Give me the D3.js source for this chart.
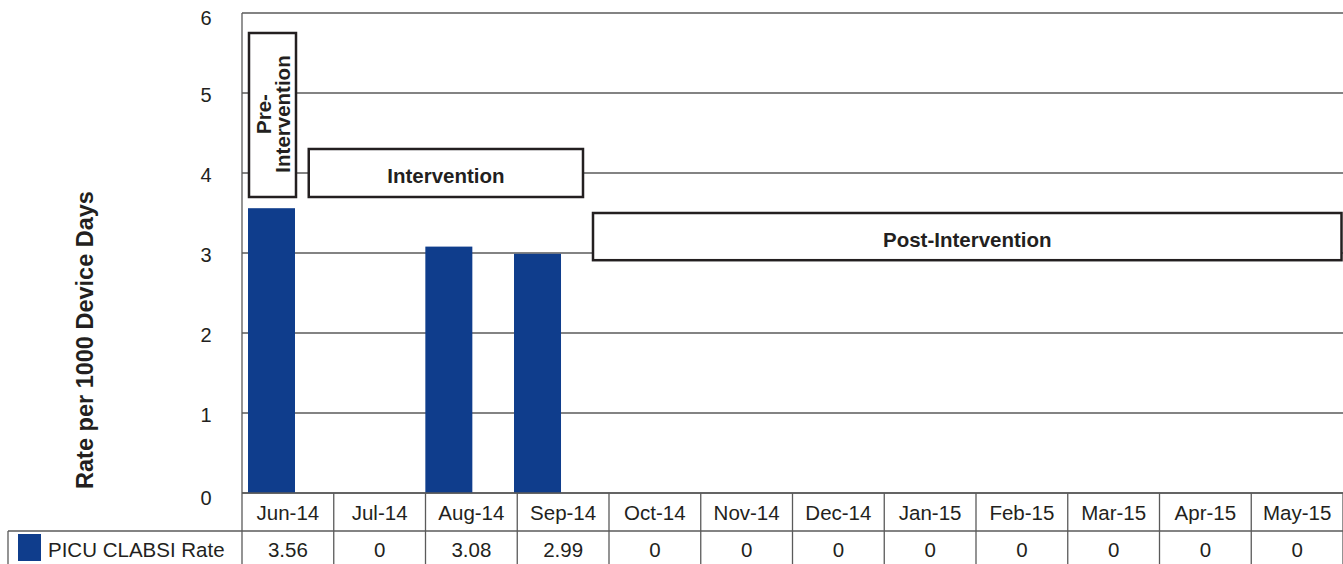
<!DOCTYPE html>
<html>
<head>
<meta charset="utf-8">
<script src="https://cdn.jsdelivr.net/npm/d3@7"></script>
<style>
  body { margin: 0; background: #fff; }
  text { font-family: "Liberation Sans", Arial, sans-serif; fill: #231f20; }
</style>
</head>
<body>
<div id="chart"></div>
<script>
var months = ["Jun-14", "Jul-14", "Aug-14", "Sep-14", "Oct-14", "Nov-14", "Dec-14", "Jan-15", "Feb-15", "Mar-15", "Apr-15", "May-15"];
var rates = [3.56, 0, 3.08, 2.99, 0, 0, 0, 0, 0, 0, 0, 0];
var rateLabels = ["3.56", "0", "3.08", "2.99", "0", "0", "0", "0", "0", "0", "0", "0"];
var yTicks = [0, 1, 2, 3, 4, 5, 6];
var seriesName = "PICU CLABSI Rate";
var yTitle = "Rate per 1000 Device Days";
var phaseNames = ["Pre-Intervention", "Intervention", "Post-Intervention"];
var phaseFirst = ["Jun-14", "Jul-14", "Oct-14"];
var phaseLast = ["Jun-14", "Sep-14", "May-15"];
var phaseTop = [5.75, 4.3, 3.5];
var phaseBottom = [3.7, 3.7, 2.91];

var width = 1343;
var height = 564;
var plotLeft = 242, plotRight = 1343, plotTop = 13, plotBottom = 493;
var rowH = 38;
var blue = "#0f3d8c";
var grid = "#5a5a5a";

var svg = d3.select("#chart")
  .append("svg")
  .attr("width", width)
  .attr("height", height);

var x = d3.scaleBand().domain(months).range([plotLeft, plotRight]);
// bars sit a little to the left of the table columns in the original
var xb = d3.scaleBand().domain(months).range([248, 248 + 12 * 88.67]);
var bw = 47;
var y = d3.scaleLinear().domain([0, 6]).range([plotBottom, plotTop]);

// gridlines
svg.append("g")
  .selectAll("line")
  .data(yTicks)
  .enter().append("line")
  .attr("x1", plotLeft).attr("x2", plotRight)
  .attr("y1", function(d) { return y(d); })
  .attr("y2", function(d) { return y(d); })
  .attr("stroke", grid)
  .style("stroke-width", "1.3px");

// left axis line
svg.append("line")
  .attr("x1", plotLeft).attr("x2", plotLeft)
  .attr("y1", plotTop).attr("y2", plotBottom + 2 * rowH)
  .attr("stroke", grid)
  .style("stroke-width", "1.3px");

// y tick labels
svg.append("g")
  .selectAll("text")
  .data(yTicks)
  .enter().append("text")
  .attr("x", 206)
  .attr("y", function(d) { return y(d) + (d === 0 || d === 6 ? 12 : 9); })
  .attr("text-anchor", "middle")
  .style("font-size", "20px")
  .text(function(d) { return d; });

// y title
svg.append("text")
  .attr("transform", "translate(93,340) rotate(-90)")
  .attr("text-anchor", "middle")
  .style("font-size", "23.5px")
  .style("font-weight", "bold")
  .text(yTitle);

// bars
svg.append("g")
  .selectAll("rect")
  .data(rates)
  .enter().append("rect")
  .attr("x", function(d, i) { return xb(months[i]); })
  .attr("width", bw)
  .attr("y", function(d) { return y(d); })
  .attr("height", function(d) { return y(0) - y(d); })
  .attr("fill", blue);

// data table
var table = svg.append("g");
table.append("line")
  .attr("x1", plotLeft).attr("x2", plotRight)
  .attr("y1", plotBottom).attr("y2", plotBottom)
  .attr("stroke", grid).style("stroke-width", "1.3px");
table.append("line")
  .attr("x1", 8).attr("x2", plotRight)
  .attr("y1", plotBottom + rowH).attr("y2", plotBottom + rowH)
  .attr("stroke", grid).style("stroke-width", "1.3px");
table.append("line")
  .attr("x1", 8).attr("x2", 8)
  .attr("y1", plotBottom + rowH).attr("y2", height + 2)
  .attr("stroke", grid).style("stroke-width", "1.3px");
table.selectAll(".sep")
  .data(months)
  .enter().append("line")
  .attr("class", "sep")
  .attr("x1", function(d) { return x(d) + x.bandwidth(); })
  .attr("x2", function(d) { return x(d) + x.bandwidth(); })
  .attr("y1", plotBottom).attr("y2", height + 2)
  .attr("stroke", grid).style("stroke-width", "1.3px");
table.selectAll(".mlab")
  .data(months)
  .enter().append("text")
  .attr("class", "mlab")
  .attr("x", function(d) { return x(d) + x.bandwidth() / 2; })
  .attr("y", plotBottom + 27)
  .attr("text-anchor", "middle")
  .style("font-size", "20.5px")
  .text(function(d) { return d; });
table.selectAll(".vlab")
  .data(rateLabels)
  .enter().append("text")
  .attr("class", "vlab")
  .attr("x", function(d, i) { return x(months[i]) + x.bandwidth() / 2; })
  .attr("y", plotBottom + rowH + 26)
  .attr("text-anchor", "middle")
  .style("font-size", "20.5px")
  .text(function(d) { return d; });
table.append("rect")
  .attr("x", 18).attr("y", plotBottom + rowH + 3)
  .attr("width", 23).attr("height", 27)
  .attr("fill", blue);
table.append("text")
  .attr("x", 48).attr("y", plotBottom + rowH + 26)
  .style("font-size", "20.5px")
  .text(seriesName);

// phase annotation boxes
var phaseX0 = [
  xb(phaseFirst[0]) + 1,
  x(phaseFirst[1]) - 25,
  x(phaseFirst[2]) - 16
];
var phaseX1 = [
  xb(phaseLast[0]) + bw + 1,
  x(phaseLast[1]) + x.bandwidth() - 26,
  plotRight - 1.5
];
var phases = svg.append("g");
phaseNames.forEach(function(name, i) {
  var x0 = phaseX0[i], x1 = phaseX1[i];
  var y0 = y(phaseTop[i]), y1 = y(phaseBottom[i]);
  phases.append("rect")
    .attr("x", x0).attr("y", y0)
    .attr("width", x1 - x0).attr("height", y1 - y0)
    .attr("fill", "#fff")
    .attr("stroke", "#231f20")
    .style("stroke-width", "2.5px");
  if (i === 0) {
    var t = phases.append("text")
      .attr("transform", "translate(" + ((x0 + x1) / 2 + 1) + ",114) rotate(-90)")
      .attr("text-anchor", "middle")
      .style("font-size", "20.5px")
      .style("font-weight", "bold");
    t.append("tspan").attr("x", 0).attr("dy", "-0.1em").text("Pre-");
    t.append("tspan").attr("x", 0).attr("dy", "0.88em").text("Intervention");
  } else {
    phases.append("text")
      .attr("x", (x0 + x1) / 2)
      .attr("y", (y0 + y1) / 2 + 10)
      .attr("text-anchor", "middle")
      .style("font-size", "20.5px")
      .style("font-weight", "bold")
      .text(name);
  }
});
</script>
</body>
</html>
